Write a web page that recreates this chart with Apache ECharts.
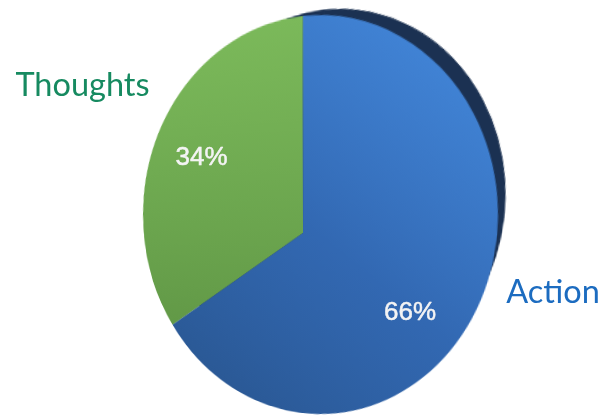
<!DOCTYPE html>
<html>
<head>
<meta charset="utf-8">
<script src="https://cdn.jsdelivr.net/npm/echarts@6/dist/echarts.min.js"></script>
<style>
html,body{margin:0;padding:0;background:#ffffff;width:605px;height:417px;overflow:hidden;}
#pie{position:absolute;left:0;top:0;width:400px;height:400px;transform-origin:0 0;}
#labels{position:absolute;left:0;top:0;width:605px;height:417px;}
</style>
</head>
<body>
<div id="pie"></div>
<div id="labels"></div>
<script>
// ---- data ----
const categories = ['Thoughts', 'Action'];
const values = [34, 66];

// ---- perspective view of the pie disc (circle -> ellipse homography) ----
const SRC_C = 200, SRC_R = 180;
const view = { cx: 320.5, cy: 214.5, a: 177.5, b: 199.5, rot: 0, px: 303, py: 233 };

function mul(A, B) {
  const R = [[0,0,0],[0,0,0],[0,0,0]];
  for (let i = 0; i < 3; i++) for (let j = 0; j < 3; j++)
    for (let k = 0; k < 3; k++) R[i][j] += A[i][k] * B[k][j];
  return R;
}
function inv3(m) {
  const [a,b,c] = m[0], [d,e,f] = m[1], [g,h,i] = m[2];
  const A = e*i - f*h, B = -(d*i - f*g), C = d*h - e*g;
  const det = a*A + b*B + c*C;
  return [
    [A/det, -(b*i - c*h)/det, (b*f - c*e)/det],
    [B/det, (a*i - c*g)/det, -(a*f - c*d)/det],
    [C/det, -(a*h - b*g)/det, (a*e - b*d)/det]
  ];
}
function apply(M, p) {
  const w = M[2][0]*p[0] + M[2][1]*p[1] + M[2][2];
  return [(M[0][0]*p[0] + M[0][1]*p[1] + M[0][2]) / w, (M[1][0]*p[0] + M[1][1]*p[1] + M[1][2]) / w];
}
function buildH(t) {
  const c = Math.cos(t.rot), s = Math.sin(t.rot);
  const Aff = [[t.a*c, -t.b*s, t.cx], [t.a*s, t.b*c, t.cy], [0, 0, 1]];
  const p = apply(inv3(Aff), [t.px, t.py]);
  const beta = Math.hypot(p[0], p[1]);
  const g = 1 / Math.sqrt(1 - beta*beta);
  const nx = beta ? p[0]/beta : 0, ny = beta ? p[1]/beta : 0;
  const Bst = [
    [1 + (g-1)*nx*nx, (g-1)*nx*ny, g*beta*nx],
    [(g-1)*nx*ny, 1 + (g-1)*ny*ny, g*beta*ny],
    [g*beta*nx, g*beta*ny, g]
  ];
  const N = [[1/SRC_R, 0, -SRC_C/SRC_R], [0, 1/SRC_R, -SRC_C/SRC_R], [0, 0, 1]];
  return mul(mul(Aff, Bst), N);
}
const H = buildH(view);
const q = apply(inv3(H), [view.px, view.py - 100]);
const startAngle = Math.atan2(-(q[1] - SRC_C), q[0] - SRC_C) * 180 / Math.PI;

const pieDiv = document.getElementById('pie');
pieDiv.style.transform = 'matrix3d(' + [
  H[0][0], H[1][0], 0, H[2][0],
  H[0][1], H[1][1], 0, H[2][1],
  0, 0, 1, 0,
  H[0][2], H[1][2], 0, H[2][2]
].join(',') + ')';

const sliceColors = [
  { type: 'linear', x: 0, y: 20, x2: 0, y2: 380, global: true,
    colorStops: [{ offset: 0, color: '#7bb95a' }, { offset: 1, color: '#5a8f41' }] },
  { type: 'linear', x: 380, y: 20, x2: 120, y2: 380, global: true,
    colorStops: [{ offset: 0, color: '#468de2' }, { offset: 0.55, color: '#3268b2' }, { offset: 1, color: '#2a5894' }] }
];
const RIM = '#1b3152';

const pieChart = echarts.init(pieDiv, null, { renderer: 'canvas' });
pieChart.setOption({
  animation: false,
  series: [
    {
      type: 'pie', silent: true, z: 1,
      center: [SRC_C + 19.3, SRC_C - 17.4], radius: SRC_R - 15,
      startAngle: startAngle, clockwise: false,
      label: { show: false }, labelLine: { show: false },
      itemStyle: { color: RIM, borderColor: RIM, borderWidth: 1 },
      emphasis: { disabled: true },
      data: categories.map((n, i) => ({ name: n, value: values[i] }))
    },
    {
      type: 'pie', silent: true, z: 2,
      center: [SRC_C, SRC_C], radius: SRC_R,
      startAngle: startAngle, clockwise: false,
      label: { show: false }, labelLine: { show: false },
      itemStyle: { borderWidth: 0 },
      emphasis: { disabled: true },
      data: categories.map((n, i) => ({ name: n, value: values[i], itemStyle: { color: sliceColors[i] } }))
    }
  ]
});

// ---- flat text labels ----
const total = values.reduce((s, v) => s + v, 0);
const namePos = [[82.5, 86], [553, 292.5]];
const nameColors = ['#168a60', '#1c6cc0'];
const pctPos = [[201.5, 157.5], [410, 313]];

const labelChart = echarts.init(document.getElementById('labels'), null, { renderer: 'canvas' });
const elements = [];
categories.forEach((n, i) => {
  elements.push({
    type: 'text', x: namePos[i][0], y: namePos[i][1], silent: true,
    style: { text: n, fill: nameColors[i], font: '32.5px Lato',
      align: 'center', verticalAlign: 'middle', textAlign: 'center', textVerticalAlign: 'middle' }
  });
  elements.push({
    type: 'text', x: pctPos[i][0], y: pctPos[i][1], silent: true,
    style: { text: Math.round(values[i] / total * 100) + '%', fill: '#f4f4f4',
      font: '26px "Liberation Sans", Arial, sans-serif',
      stroke: '#f4f4f4', lineWidth: 0.5,
      align: 'center', verticalAlign: 'middle', textAlign: 'center', textVerticalAlign: 'middle' }
  });
});
labelChart.setOption({ animation: false, graphic: { elements: elements } });
</script>
</body>
</html>
